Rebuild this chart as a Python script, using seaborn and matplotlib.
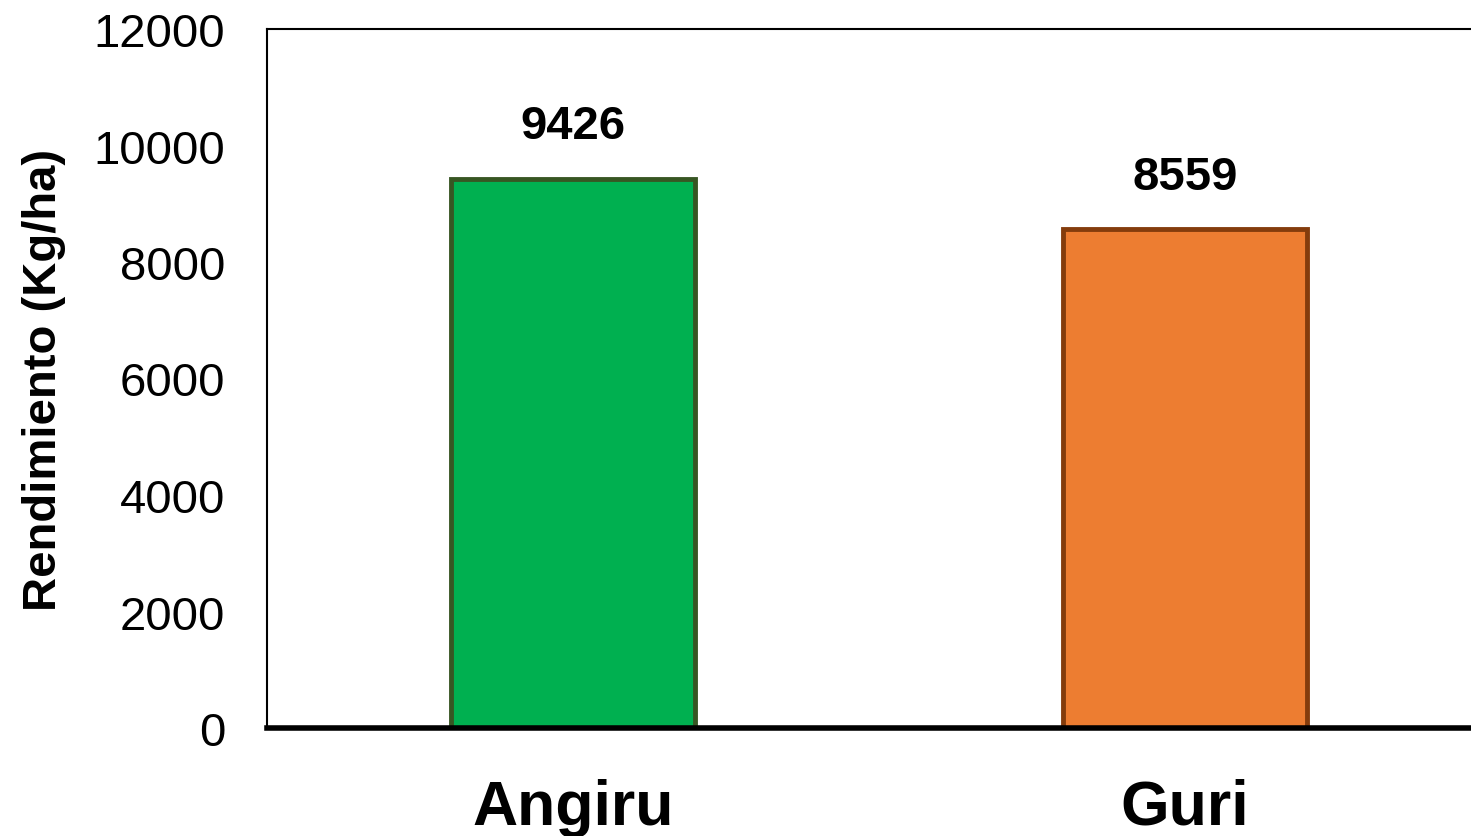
import matplotlib
matplotlib.use("Agg")
import matplotlib.pyplot as plt
import seaborn as sns
import pandas as pd

# Data
variedades = ["Angiru", "Guri"]
rendimiento = [9426, 8559]
colores = ["#00B050", "#ED7D31"]
bordes = ["#375623", "#843C0C"]
y_ticks = [0, 2000, 4000, 6000, 8000, 10000, 12000]

df = pd.DataFrame({"Variedad": variedades, "Rendimiento": rendimiento})

sns.set_style("white")
plt.rcParams["font.family"] = ["Liberation Sans", "DejaVu Sans"]
plt.rcParams["text.color"] = "black"
plt.rcParams["axes.labelcolor"] = "black"
plt.rcParams["xtick.color"] = "black"
plt.rcParams["ytick.color"] = "black"

fig = plt.figure(figsize=(14.71, 8.37), dpi=100)
ax = fig.add_axes([267 / 1471, 1 - 729 / 837, 1224 / 1471, 699 / 837])

sns.barplot(data=df, x="Variedad", y="Rendimiento", hue="Variedad",
            palette=colores, saturation=1, width=0.4, legend=False, ax=ax)

for patch, ec in zip(ax.patches, bordes):
    patch.set_edgecolor(ec)
    patch.set_linewidth(3.5)

for cont in ax.containers:
    ax.bar_label(cont, fmt="%d", padding=22, fontsize=34, fontweight="bold",
                 color="black")

ax.set_xlim(-0.5, 1.5)
ax.set_ylim(0, 12000)
ax.set_yticks(y_ticks)
ax.set_yticklabels([str(t) for t in y_ticks], fontsize=34)
ax.tick_params(axis="y", length=0, pad=30, colors="black")
ax.tick_params(axis="x", length=0, pad=36, labelsize=45, colors="black")
for lab in ax.get_xticklabels():
    lab.set_fontweight("bold")

ax.set_xlabel("")
ax.set_ylabel("Rendimiento (Kg/ha)", fontsize=34, fontweight="bold",
              labelpad=20, color="black")

for side in ["top", "left", "right"]:
    ax.spines[side].set_color("black")
    ax.spines[side].set_linewidth(1.5)
ax.spines["bottom"].set_color("black")
ax.spines["bottom"].set_linewidth(4)

fig.savefig("out.png", dpi=100)
